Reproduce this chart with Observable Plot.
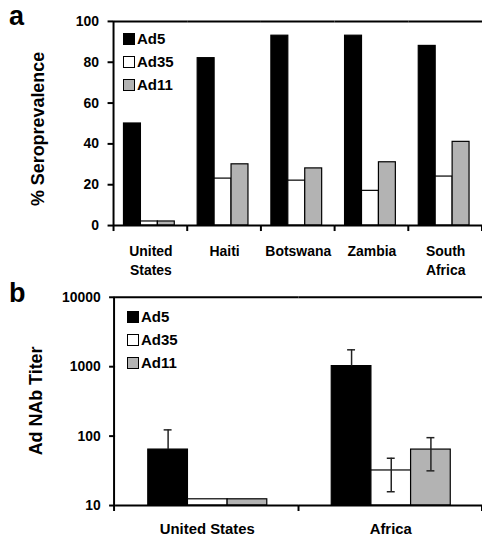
<!DOCTYPE html>
<html>
<head>
<meta charset="utf-8">
<script src="https://cdn.jsdelivr.net/npm/d3@7"></script>
<script src="https://cdn.jsdelivr.net/npm/@observablehq/plot@0.6"></script>
<style>
  html, body { margin: 0; padding: 0; background: #fff; }
  #wrap { position: relative; width: 482px; height: 540px; overflow: hidden; font-family: "Liberation Sans", Arial, sans-serif; font-weight: bold; color: #000; }
  .panel { position: absolute; left: 0; }
  .plabel { position: absolute; font-size: 27px; line-height: 1; }
  .legend { position: absolute; font-size: 15px; }
  .legend .item { display: flex; align-items: center; height: 23px; }
  .legend .sw { width: 12px; height: 12px; box-sizing: border-box; border: 1px solid #000; margin-right: 2px; }
</style>
</head>
<body>
<div id="wrap"></div>
<script>
// ---------- data ----------
const seriesNames = ["Ad5", "Ad35", "Ad11"];
const seriesColors = ["#000000", "#ffffff", "#b3b3b3"];

// Panel a: % seroprevalence
const countriesA = ["United States", "Haiti", "Botswana", "Zambia", "South Africa"];
const countryLabelsA = ["United\nStates", "Haiti", "Botswana", "Zambia", "South\nAfrica"];
const ad5A = [50, 82, 93, 93, 88];
const ad35A = [2, 23, 22, 17, 24];
const ad11A = [2, 30, 28, 31, 41];
const yTicksA = [0, 20, 40, 60, 80, 100];

// Panel b: Ad NAb titer (log scale), with error bars
const regionsB = ["United States", "Africa"];
const ad5B = [64, 1020];
const ad35B = [12.3, 32];
const ad11B = [12.3, 64];
const ad5HiB = [123, 1750];
const ad5LoB = [null, null];
const ad35HiB = [null, 48];
const ad35LoB = [null, 15.8];
const ad11HiB = [null, 95];
const ad11LoB = [null, 31.6];
const yTicksB = [10, 100, 1000, 10000];

const FONT = "'Liberation Sans', Arial, sans-serif";
const wrap = document.getElementById("wrap");

// ---------- helpers ----------
function addPanelLabel(text, left, top) {
  const d = document.createElement("div");
  d.className = "plabel";
  d.textContent = text;
  d.style.left = left + "px";
  d.style.top = top + "px";
  wrap.appendChild(d);
}
function addLegend(left, top) {
  const lg = document.createElement("div");
  lg.className = "legend";
  lg.style.left = left + "px";
  lg.style.top = top + "px";
  seriesNames.forEach((s, i) => {
    const it = document.createElement("div");
    it.className = "item";
    const sw = document.createElement("div");
    sw.className = "sw";
    sw.style.background = seriesColors[i];
    const tx = document.createElement("span");
    tx.textContent = s;
    it.appendChild(sw); it.appendChild(tx);
    lg.appendChild(it);
  });
  wrap.appendChild(lg);
}
function decorate(chart, title, titleX, titleDy, yTop, yBottom) {
  const fx = chart.scale("fx");
  const y = chart.scale("y");
  const svg = d3.select(chart);
  const x0 = fx.range[0];
  const x1 = fx.range[1];
  const yb = y.apply(yBottom);
  const yt = y.apply(yTop);
  // left axis line
  svg.append("line").attr("x1", x0).attr("x2", x0).attr("y1", yt).attr("y2", yb + 6)
    .attr("stroke", "#000").attr("stroke-width", 2);
  // category boundary ticks
  const bounds = fx.domain.slice(1).map(d => fx.apply(d)).concat([x1]);
  bounds.forEach(bx => {
    svg.append("line").attr("x1", bx).attr("x2", bx).attr("y1", yb).attr("y2", yb + 6)
      .attr("stroke", "#000").attr("stroke-width", 2);
  });
  // y title
  const cy = (yt + yb) / 2 + titleDy;
  svg.append("text")
    .attr("transform", `translate(${titleX},${cy}) rotate(-90)`)
    .attr("text-anchor", "middle")
    .attr("dominant-baseline", "central")
    .attr("font-family", FONT)
    .attr("font-weight", "bold")
    .attr("font-size", 18)
    .attr("fill", "#000")
    .text(title);
}

// ---------- panel a ----------
const rowsA = countriesA.flatMap((c, i) => [
  {country: c, series: "Ad5", value: ad5A[i]},
  {country: c, series: "Ad35", value: ad35A[i]},
  {country: c, series: "Ad11", value: ad11A[i]}
]);
const labelMapA = new Map(countriesA.map((c, i) => [c, countryLabelsA[i]]));

const chartA = Plot.plot({
  width: 484, height: 270,
  marginLeft: 114, marginRight: 0, marginTop: 21, marginBottom: 44,
  style: {fontFamily: FONT, fontSize: "14px", fontWeight: "bold", color: "#000", background: "transparent", overflow: "visible"},
  fx: {domain: countriesA, padding: 0},
  x: {domain: seriesNames, paddingInner: 0, paddingOuter: 0.65, align: 0.45, axis: null},
  y: {domain: [0, 100]},
  color: {domain: seriesNames, range: seriesColors},
  marks: [
    Plot.barY(rowsA, {fx: "country", x: "series", y: "value", fill: "series", stroke: "#000", strokeWidth: 1.2}),
    Plot.ruleY([0], {stroke: "#000", strokeWidth: 2}),
    Plot.ruleY([100], {stroke: "#000", strokeWidth: 2}),
    Plot.axisY({ticks: yTicksA, tickSize: 6, tickPadding: 9, tickFormat: d => String(d), label: null, strokeWidth: 2, fontSize: 14, fontWeight: "bold"}),
    Plot.axisFx({anchor: "bottom", tickSize: 0, tickPadding: 17, lineHeight: 1.35, tickFormat: d => labelMapA.get(d), label: null, fontSize: 14, fontWeight: "bold"})
  ]
});
const divA = document.createElement("div");
divA.className = "panel";
divA.style.top = "0px";
divA.appendChild(chartA);
wrap.appendChild(divA);
decorate(chartA, "% Seroprevalence", 38, 6, 100, 0);

// ---------- panel b ----------
const valsB = {Ad5: ad5B, Ad35: ad35B, Ad11: ad11B};
const hiB = {Ad5: ad5HiB, Ad35: ad35HiB, Ad11: ad11HiB};
const loB = {Ad5: ad5LoB, Ad35: ad35LoB, Ad11: ad11LoB};
const rowsB = regionsB.flatMap((r, i) => seriesNames.map(s => ({
  region: r, series: s, value: valsB[s][i], hi: hiB[s][i], lo: loB[s][i]
})));
const errHiB = rowsB.filter(d => d.hi != null);
const errLoB = rowsB.filter(d => d.lo != null);

const chartB = Plot.plot({
  width: 486, height: 270,
  marginLeft: 115, marginRight: 0, marginTop: 27, marginBottom: 33,
  style: {fontFamily: FONT, fontSize: "14px", fontWeight: "bold", color: "#000", background: "transparent", overflow: "visible"},
  fx: {domain: regionsB, padding: 0},
  x: {domain: seriesNames, paddingInner: 0, paddingOuter: 0.76, axis: null},
  y: {type: "log", domain: [10, 10000]},
  color: {domain: seriesNames, range: seriesColors},
  marks: [
    Plot.barY(rowsB, {fx: "region", x: "series", y1: 10, y2: "value", fill: "series", stroke: "#000", strokeWidth: 1.2}),
    Plot.ruleX(errHiB, {fx: "region", x: "series", y1: d => d.lo ?? d.value, y2: "hi", stroke: "#222", strokeWidth: 1.5}),
    Plot.tickY(errHiB, {fx: "region", x: "series", y: "hi", stroke: "#222", strokeWidth: 1.5, insetLeft: 16, insetRight: 16}),
    Plot.tickY(errLoB, {fx: "region", x: "series", y: "lo", stroke: "#222", strokeWidth: 1.5, insetLeft: 16, insetRight: 16}),
    Plot.ruleY([10], {stroke: "#000", strokeWidth: 2}),
    Plot.ruleY([10000], {stroke: "#000", strokeWidth: 2}),
    Plot.axisY({ticks: yTicksB, tickSize: 6, tickPadding: 9, tickFormat: d => String(d), label: null, strokeWidth: 2, fontSize: 14, fontWeight: "bold"}),
    Plot.axisFx({anchor: "bottom", tickSize: 0, tickPadding: 18, fontSize: 15, fontWeight: "bold", label: null})
  ]
});
const divB = document.createElement("div");
divB.className = "panel";
divB.style.top = "270px";
divB.appendChild(chartB);
wrap.appendChild(divB);
decorate(chartB, "Ad NAb Titer", 36, 0, 10000, 10);

// ---------- labels & legends ----------
addPanelLabel("a", 9, 3);
addPanelLabel("b", 9, 280);
addLegend(123, 27);
addLegend(127, 305);
</script>
</body>
</html>
